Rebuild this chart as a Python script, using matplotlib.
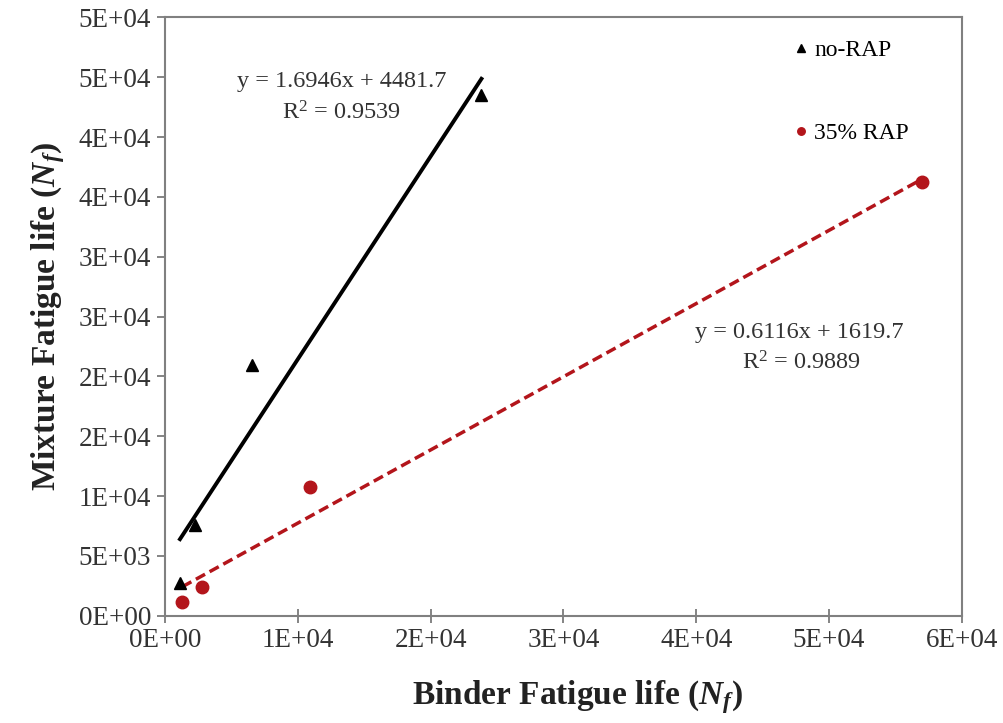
import matplotlib.pyplot as plt
import numpy as np

plt.rcParams['font.family'] = 'Liberation Serif'
plt.rcParams['mathtext.fontset'] = 'custom'
plt.rcParams['mathtext.rm'] = 'Liberation Serif'
plt.rcParams['mathtext.it'] = 'Liberation Serif:italic'
plt.rcParams['mathtext.bf'] = 'Liberation Serif:bold'
plt.rcParams['mathtext.bfit'] = 'Liberation Serif:italic:bold'

# data
norap_x = [1130, 2260, 6520, 23830]
norap_y = [2710, 7580, 20960, 43550]
rap_x = [1300, 2800, 10950, 57000]
rap_y = [1120, 2430, 10790, 36220]

# trend lines as printed on the chart
norap_fit = (1.6946, 4481.7, 0.9539)
rap_fit = (0.6116, 1619.7, 0.9889)

xticks = [0, 10000, 20000, 30000, 40000, 50000, 60000]
xlabels = ['0E+00', '1E+04', '2E+04', '3E+04', '4E+04', '5E+04', '6E+04']
yticks = [0, 5000, 10000, 15000, 20000, 25000, 30000, 35000, 40000, 45000, 50000]
ylabels = ['0E+00', '5E+03', '1E+04', '2E+04', '2E+04', '3E+04', '3E+04',
           '4E+04', '4E+04', '5E+04', '5E+04']

fig = plt.figure(figsize=(10.04, 7.23), dpi=100)
ax = fig.add_axes([0.1643, 0.1484, 0.7937, 0.8276])

red = '#B3151B'

# trend lines
xl = np.array([min(norap_x), max(norap_x)])
ax.plot(xl, norap_fit[0] * xl + norap_fit[1], color='black', lw=2.8, zorder=2)
xr = np.array([min(rap_x), max(rap_x)])
ax.plot(xr, rap_fit[0] * xr + rap_fit[1], color=red, lw=2.5,
        linestyle=(0, (3, 1.5)), zorder=2)

# points
ax.plot(norap_x, norap_y, linestyle='none', marker='^', color='black',
        markersize=9, label='no-RAP', zorder=3)
ax.plot(rap_x, rap_y, linestyle='none', marker='o', color=red,
        markersize=9, label='35% RAP', zorder=3)

ax.text(13310, 44620, 'y = %.4fx + %.1f' % norap_fit[:2], ha='center',
        va='center', fontsize=17.5, color='#333333')
ax.text(13310, 42030, 'R$^2$ = %.4f' % norap_fit[2], ha='center',
        va='center', fontsize=17.5, color='#333333')
ax.text(47740, 23640, 'y = %.4fx + %.1f' % rap_fit[:2], ha='center',
        va='center', fontsize=17.5, color='#333333')
ax.text(47900, 21130, 'R$^2$ = %.4f' % rap_fit[2], ha='center',
        va='center', fontsize=17.5, color='#333333')

leg = ax.legend(loc='upper left', bbox_to_anchor=(0.77, 0.99), frameon=False,
                fontsize=17, markerscale=0.6, handlelength=0.5,
                handletextpad=0.3, labelspacing=2.6, borderaxespad=0.3)

ax.set_xlim(0, 60000)
ax.set_ylim(0, 50000)
ax.set_xticks(xticks)
ax.set_xticklabels(xlabels)
ax.set_yticks(yticks)
ax.set_yticklabels(ylabels)
ax.tick_params(axis='x', direction='inout', length=10, width=1.2,
               color='#707070', labelsize=19.5, pad=4, labelcolor='#333333')
ax.tick_params(axis='y', direction='out', length=6, width=1.2,
               color='#707070', labelsize=19.5, pad=4, labelcolor='#333333')
for s in ax.spines.values():
    s.set_color('#808080')
    s.set_linewidth(1.5)

ax.set_xlabel(r'Binder Fatigue life ($\mathbfit{N_f}$)', fontsize=24,
              fontweight='bold', color='#222222')
ax.xaxis.set_label_coords(0.518, -0.105)
ax.set_ylabel(r'Mixture Fatigue life ($\mathbfit{N_f}$)', fontsize=24,
              fontweight='bold', labelpad=8, color='#222222')

fig.savefig('out.png', dpi=100)
